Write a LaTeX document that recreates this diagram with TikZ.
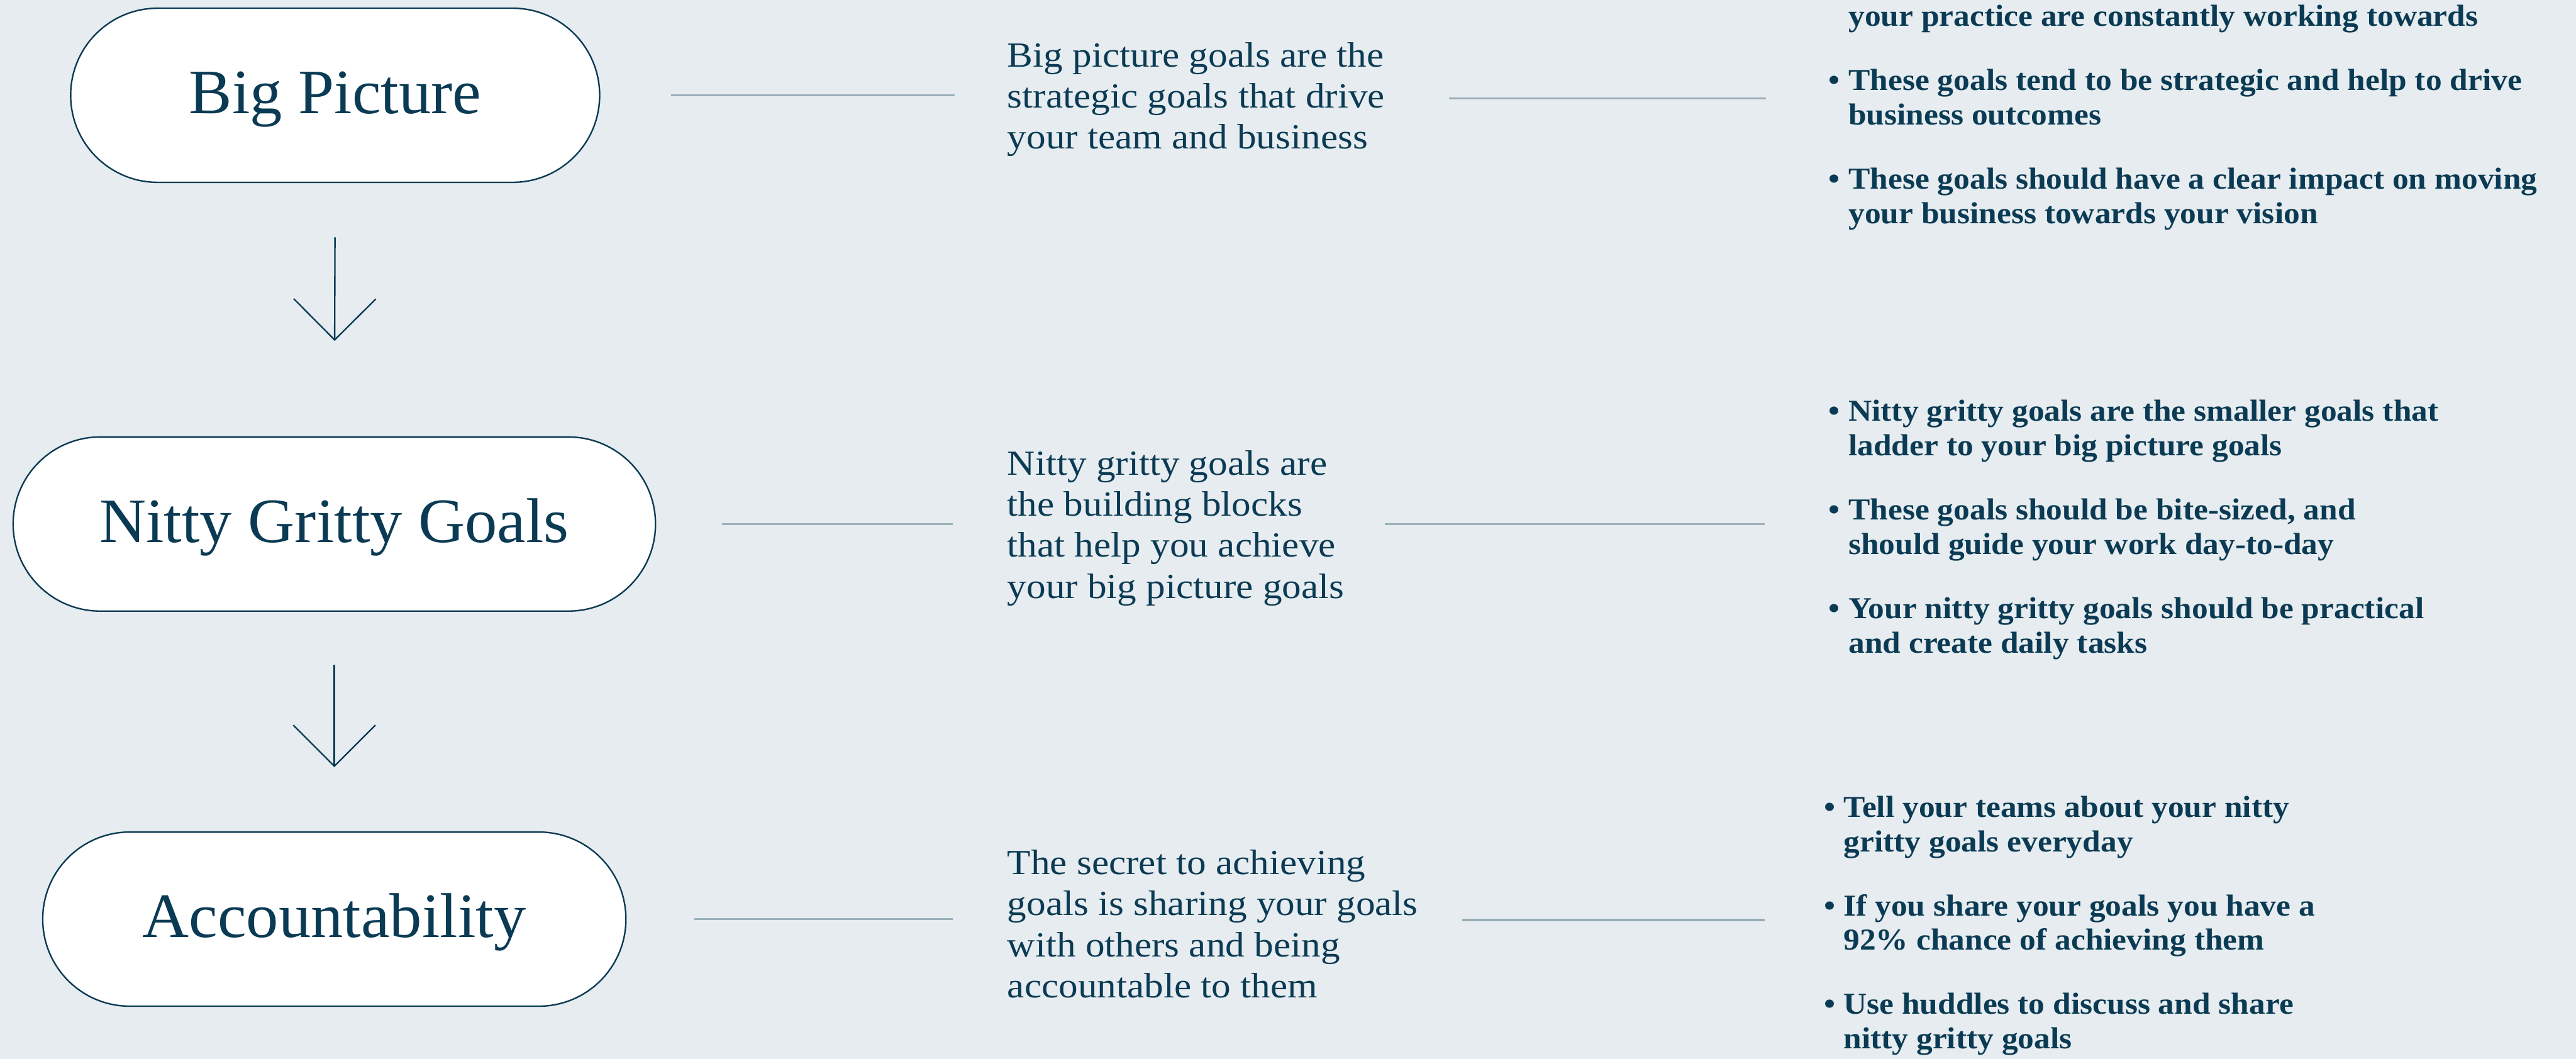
\documentclass[tikz,border=0pt]{standalone}
\usepackage{fontspec}
\setmainfont{Liberation Serif}
\newfontfamily\blurbfont[FakeStretch=1.09]{Liberation Serif}
\newfontfamily\pointfont[FakeStretch=1.065]{Liberation Serif}
\newfontfamily\capfont[FakeStretch=1.02]{Liberation Serif}
\usetikzlibrary{arrows.meta,calc}

\definecolor{navy}{HTML}{0B3B54}
\definecolor{paper}{HTML}{E6ECEF}
\definecolor{rule}{HTML}{9BAFB9}

\newcommand{\bul}{\makebox[12pt][l]{\textbullet}}
\newcommand{\ind}{\hspace*{12pt}}

\tikzset{
  capsule/.style={draw=navy, line width=0.9pt, fill=white, rounded corners=53pt,
    minimum height=106pt, text=navy, inner sep=0pt,
    text height=25.5pt, text depth=3pt,
    font=\capfont\fontsize{38.5}{42}\selectfont},
  blurb/.style={anchor=west, align=left, text=navy, inner sep=0pt,
    font=\blurbfont\fontsize{21.5}{25}\selectfont},
  points/.style={anchor=west, align=left, text=navy, inner sep=0pt,
    font=\pointfont\fontsize{18.5}{21}\selectfont\bfseries},
  link/.style={draw=rule, line width=1.3pt},
  flow/.style={draw=navy, line width=0.9pt,
    -{Straight Barb[length=25pt, width=50pt, line width=0.9pt]}},
}

\begin{document}
\begin{tikzpicture}[x=1pt, y=-1pt]
  \fill[paper] (0,0) rectangle (1568,644.6);
  \useasboundingbox (0,0) rectangle (1568,644.6);

  % left column: the three stages
  \node[capsule, minimum width=322pt] (bp)  at (204,58)    {Big Picture};
  \node[capsule, minimum width=391pt] (ng)  at (203.5,319) {Nitty Gritty Goals};
  \node[capsule, minimum width=355pt] (acc) at (203.5,559.5) {Accountability};

  \draw[flow, shorten <=33pt, shorten >=58pt] (bp.south) -- (ng.north);
  \draw[flow, shorten <=32pt, shorten >=39pt] (ng.south) -- (acc.north);

  % middle column: short descriptions
  \node[blurb] (bpmid) at (613,60.5) {Big picture goals are the\\strategic goals that drive\\your team and business};
  \node[blurb] (ngmid) at (613,321.5) {Nitty gritty goals are\\the building blocks\\that help you achieve\\your big picture goals};
  \node[blurb] (accmid) at (613,562.5) {The secret to achieving\\goals is sharing your goals\\with others and being\\accountable to them};

  % right column: bullet points
  \node[points] (bppts) at (1113,71.5) {\ind your practice are constantly working towards\\[18pt]
    \bul These goals tend to be strategic and help to drive\\
    \ind business outcomes\\[18pt]
    \bul These goals should have a clear impact on moving\\
    \ind your business towards your vision};
  \node[points] (ngpts) at (1113,322.5) {\bul Nitty gritty goals are the smaller goals that\\
    \ind ladder to your big picture goals\\[18pt]
    \bul These goals should be bite-sized, and\\
    \ind should guide your work day-to-day\\[18pt]
    \bul Your nitty gritty goals should be practical\\
    \ind and create daily tasks};
  \node[points] (accpts) at (1110,563.5) {\bul Tell your teams about your nitty\\
    \ind gritty goals everyday\\[18pt]
    \bul If you share your goals you have a\\
    \ind 92\% chance of achieving them\\[18pt]
    \bul Use huddles to discuss and share\\
    \ind nitty gritty goals};

  % connecting rules
  \coordinate (bpr) at (882,60);
  \coordinate (ngr) at (843,319);
  \coordinate (accr) at (890,560);
  \draw[link, shorten <=43pt, shorten >=32pt] (bp.east) -- (bp.east -| bpmid.west);
  \draw[link, shorten <=40pt, shorten >=33pt] (ng.east) -- (ng.east -| ngmid.west);
  \draw[link, shorten <=41pt, shorten >=33pt] (acc.east) -- (acc.east -| accmid.west);
  \draw[link, shorten >=38pt] (bpr) -- (bpr -| bppts.west);
  \draw[link, shorten >=39pt] (ngr) -- (ngr -| ngpts.west);
  \draw[link, shorten >=36pt] (accr) -- (accr -| accpts.west);
\end{tikzpicture}
\end{document}
